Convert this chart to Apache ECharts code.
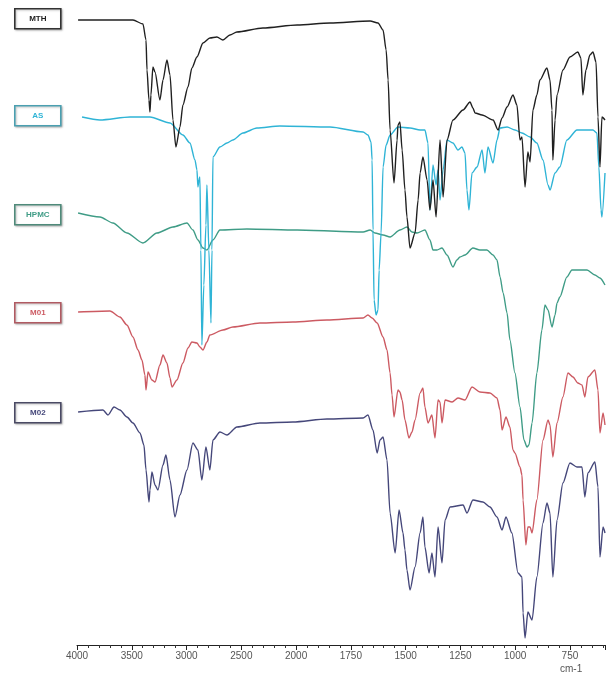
<!DOCTYPE html>
<html>
<head>
<meta charset="utf-8">
<script src="https://cdn.jsdelivr.net/npm/echarts@6/dist/echarts.min.js"></script>
<style>
  html, body { margin: 0; padding: 0; background: #fff; }
  #chart { width: 608px; height: 681px; }
</style>
</head>
<body>
<div id="chart"></div>
<script>
// axis: 4000-2000 in 500 steps, then 2000-750 in 250 steps (same spacing)
const tickLabels = ['4000', '3500', '3000', '2500', '2000', '1750', '1500', '1250', '1000', '750'];
const seriesNames = ['MTH', 'AS', 'HPMC', 'M01', 'M02'];

// [wavenumber cm-1, stacked intensity a.u.]
const mth = [
  [3990, 625], [3489, 625], [3398, 621], [3370, 605], [3361, 575], [3343, 545], [3334, 533], [3325, 550],
  [3307, 578], [3288, 573], [3243, 545], [3215, 565], [3179, 585], [3151, 570], [3124, 525], [3097, 498],
  [3060, 518], [3033, 540], [2987, 558], [2951, 577], [2905, 588], [2850, 602], [2787, 607], [2723, 608],
  [2668, 605], [2604, 610], [2540, 613], [2303, 617], [1995, 620], [1845, 622], [1662, 624], [1626, 622],
  [1603, 615], [1589, 595], [1580, 565], [1571, 515], [1553, 462], [1539, 505], [1535, 520], [1526, 523],
  [1516, 495], [1503, 455], [1494, 428], [1480, 397], [1457, 412], [1443, 445], [1434, 472], [1421, 488],
  [1402, 465], [1389, 435], [1375, 465], [1361, 428], [1343, 505], [1329, 448], [1311, 505], [1284, 525],
  [1238, 535], [1206, 543], [1193, 537], [1183, 532], [1151, 530], [1101, 525], [1078, 515], [1060, 527],
  [1037, 538], [1010, 550], [992, 540], [978, 505], [969, 508], [955, 458], [942, 493], [932, 483],
  [919, 535], [901, 550], [887, 565], [855, 577], [841, 565], [832, 535], [828, 485], [818, 525],
  [809, 550], [782, 575], [750, 588], [714, 593], [700, 587], [691, 550], [677, 575], [659, 590],
  [645, 593], [631, 583], [622, 528], [613, 478], [604, 528], [590, 525]
];
const as = [
  [3954, 528], [3790, 525], [3516, 528], [3334, 528], [3151, 522], [3033, 510], [2969, 502], [2923, 485],
  [2905, 475], [2896, 458], [2887, 465], [2878, 468], [2869, 395], [2860, 300], [2842, 360], [2823, 420],
  [2814, 460], [2796, 395], [2777, 322], [2768, 395], [2759, 488], [2695, 498], [2631, 502], [2577, 505],
  [2485, 512], [2358, 517], [2148, 519], [1845, 518], [1694, 513], [1672, 510], [1658, 503], [1653, 485],
  [1649, 415], [1644, 345], [1635, 330], [1626, 335], [1621, 375], [1612, 412], [1603, 478], [1589, 500],
  [1571, 510], [1535, 518], [1480, 517], [1434, 515], [1412, 515], [1398, 502], [1389, 435], [1375, 480],
  [1361, 460], [1352, 475], [1343, 445], [1329, 475], [1311, 505], [1284, 502], [1261, 495], [1243, 498],
  [1229, 492], [1220, 455], [1211, 435], [1197, 472], [1174, 478], [1151, 495], [1138, 472], [1124, 498],
  [1101, 482], [1083, 505], [1069, 517], [1037, 518], [1001, 515], [969, 512], [932, 508], [901, 502],
  [873, 485], [850, 460], [841, 455], [818, 472], [796, 478], [764, 505], [718, 515], [645, 515],
  [627, 512], [618, 478], [608, 435], [604, 428], [590, 472]
];
const hpmc = [
  [3990, 432], [3790, 428], [3672, 422], [3544, 412], [3398, 402], [3270, 412], [3124, 418], [2996, 422],
  [2942, 415], [2896, 405], [2850, 397], [2814, 395], [2759, 405], [2695, 415], [2449, 416], [1995, 415],
  [1694, 413], [1662, 415], [1640, 412], [1603, 410], [1571, 408], [1526, 415], [1494, 418], [1471, 413],
  [1448, 412], [1412, 415], [1389, 405], [1375, 395], [1357, 395], [1334, 397], [1311, 390], [1284, 378],
  [1266, 385], [1252, 388], [1229, 390], [1193, 397], [1161, 395], [1129, 395], [1101, 390], [1083, 385],
  [1069, 368], [1055, 352], [1037, 332], [1024, 305], [1001, 272], [978, 238], [960, 205], [946, 198],
  [937, 200], [923, 222], [901, 272], [878, 315], [864, 340], [850, 335], [832, 318], [818, 330],
  [809, 342], [796, 348], [764, 368], [741, 375], [704, 375], [672, 375], [636, 370], [613, 367], [590, 360]
];
const m01 = [
  [3990, 333], [3699, 334], [3608, 328], [3544, 320], [3489, 308], [3443, 295], [3407, 285], [3380, 270],
  [3370, 255], [3352, 273], [3316, 265], [3288, 263], [3243, 280], [3215, 290], [3179, 282], [3151, 267],
  [3133, 258], [3088, 265], [3033, 282], [2987, 297], [2951, 303], [2905, 302], [2878, 298], [2850, 295],
  [2814, 303], [2787, 310], [2668, 315], [2577, 318], [2330, 322], [2029, 323], [1859, 325], [1694, 327],
  [1672, 330], [1653, 327], [1630, 322], [1603, 308], [1585, 295], [1571, 272], [1562, 250], [1553, 228],
  [1535, 255], [1526, 253], [1516, 245], [1503, 225], [1485, 207], [1471, 213], [1457, 225], [1434, 252],
  [1421, 257], [1412, 238], [1398, 222], [1380, 230], [1366, 207], [1352, 245], [1343, 243], [1334, 222],
  [1320, 245], [1288, 243], [1261, 247], [1229, 245], [1197, 258], [1161, 253], [1115, 252], [1083, 247],
  [1069, 235], [1060, 215], [1042, 228], [1024, 218], [1010, 195], [1001, 192], [978, 178], [969, 170],
  [964, 145], [951, 100], [942, 118], [932, 118], [923, 112], [901, 145], [873, 205], [850, 225],
  [841, 220], [828, 188], [809, 222], [782, 248], [759, 272], [736, 268], [714, 262], [695, 260],
  [682, 248], [668, 268], [636, 275], [622, 255], [613, 212], [599, 232], [590, 220]
];
const m02 = [
  [3990, 233], [3763, 235], [3717, 230], [3662, 238], [3608, 235], [3544, 228], [3489, 222], [3425, 212],
  [3389, 200], [3370, 175], [3343, 143], [3334, 155], [3316, 173], [3288, 160], [3261, 155], [3215, 180],
  [3188, 190], [3151, 165], [3106, 128], [3060, 150], [2996, 175], [2942, 202], [2896, 195], [2860, 165],
  [2823, 198], [2787, 175], [2759, 205], [2695, 213], [2631, 210], [2540, 218], [2330, 222], [2029, 223],
  [1859, 226], [1694, 227], [1672, 230], [1649, 215], [1630, 192], [1617, 205], [1603, 208], [1585, 185],
  [1571, 132], [1548, 92], [1530, 135], [1512, 112], [1503, 95], [1494, 75], [1480, 55], [1457, 78],
  [1434, 112], [1421, 128], [1412, 98], [1393, 72], [1380, 92], [1366, 68], [1352, 118], [1334, 82],
  [1320, 125], [1297, 138], [1238, 140], [1220, 132], [1193, 145], [1147, 143], [1115, 138], [1083, 128],
  [1060, 115], [1042, 128], [1015, 112], [987, 72], [969, 68], [964, 32], [955, 7], [942, 33],
  [923, 25], [901, 68], [873, 122], [855, 142], [841, 132], [828, 68], [809, 125], [782, 162],
  [750, 182], [718, 178], [695, 178], [682, 148], [668, 172], [636, 183], [622, 158], [613, 88],
  [599, 118], [590, 112]
];

const colors = ['#202020', '#2fb4d6', '#3f9c86', '#cc5a62', '#45477a'];
const boxBorder = ['#333333', '#4a9fb0', '#4f8a7a', '#b05a62', '#4a4a64'];
const boxTop = [8, 105, 204, 302, 402];

// piecewise wavenumber -> axis position (one unit per major tick)
function toU (w) {
  return w >= 2000 ? (4000 - w) / 500 : 4 + (2000 - w) / 250;
}

const data = [mth, as, hpmc, m01, m02];
const chart = echarts.init(document.getElementById('chart'));

const series = [];
// draw bottom traces first so MTH / AS sit on top
for (let i = data.length - 1; i >= 0; i--) {
  series.push({
    name: seriesNames[i],
    type: 'line',
    data: data[i].map((p) => [toU(p[0]), p[1]]),
    showSymbol: false,
    smooth: 0.25,
    smoothMonotone: 'x',
    lineStyle: { color: colors[i], width: 1.4 },
    itemStyle: { color: colors[i] },
    silent: true,
    animation: false,
  });
}

const graphics = [];
seriesNames.forEach((name, i) => {
  graphics.push({
    type: 'group',
    left: 14,
    top: boxTop[i],
    children: [
      {
        type: 'rect',
        shape: { x: 0, y: 0, width: 46, height: 20 },
        style: { fill: '#fff', stroke: boxBorder[i], lineWidth: 1.6, shadowBlur: 2, shadowColor: 'rgba(0,0,0,0.25)', shadowOffsetX: 1, shadowOffsetY: 1 },
      },
      {
        type: 'text',
        x: 23,
        y: 10,
        style: { text: name, fill: colors[i], font: 'bold 8px "Liberation Sans", Arial, sans-serif', align: 'center', verticalAlign: 'middle' },
      },
    ],
  });
});
graphics.push({
  type: 'text',
  left: 560,
  top: 664,
  style: { text: 'cm-1', fill: '#555', font: '10px "Liberation Sans", Arial, sans-serif' },
});

chart.setOption({
  animation: false,
  grid: { left: 77, right: 3, top: 0, bottom: 36 },
  xAxis: {
    type: 'value',
    min: 0,
    max: toU(590),
    interval: 1,
    axisLine: { lineStyle: { color: '#222', width: 1 } },
    axisTick: { show: true, length: 5, lineStyle: { color: '#222' } },
    minorTick: { show: true, splitNumber: 5, length: 3, lineStyle: { color: '#333' } },
    splitLine: { show: false },
    axisLabel: {
      showMaxLabel: false,
      margin: 6,
      fontSize: 10,
      color: '#555',
      fontFamily: '"Liberation Sans", Arial, sans-serif',
      formatter: (v) => (Math.abs(v - Math.round(v)) < 1e-6 ? tickLabels[Math.round(v)] || '' : ''),
    },
  },
  yAxis: { type: 'value', min: 0, max: 645, show: false },
  graphic: graphics,
  series: series,
});
</script>
</body>
</html>
